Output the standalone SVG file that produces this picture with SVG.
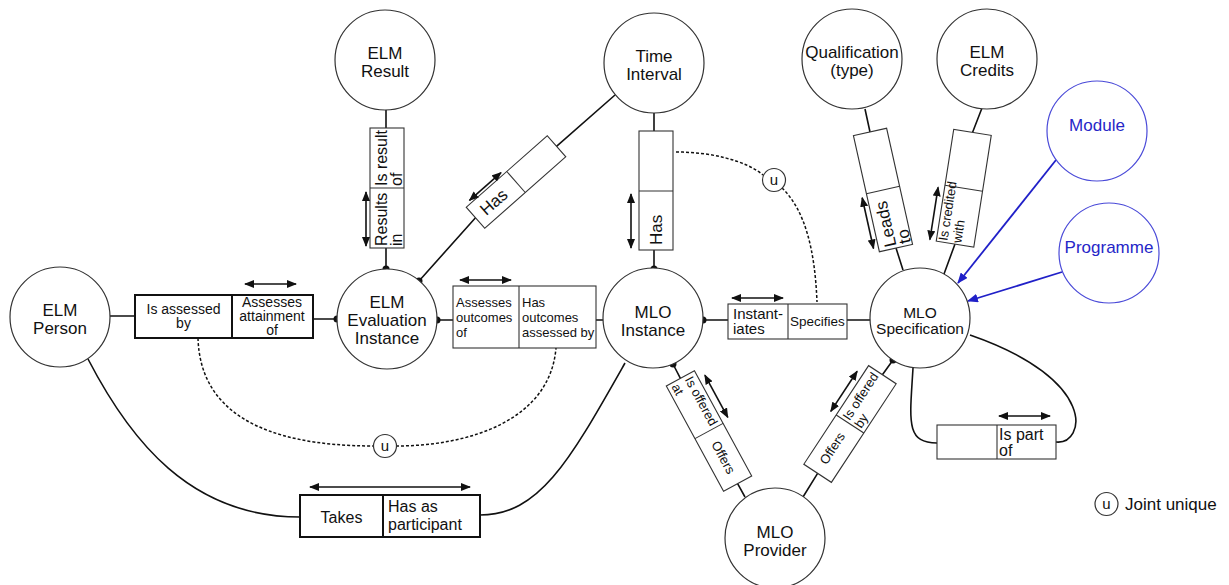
<svg xmlns="http://www.w3.org/2000/svg" width="1229" height="585" viewBox="0 0 1229 585">
<style>
text{font-family:"Liberation Sans",Arial,sans-serif;fill:#111}
.node circle{fill:#fff;stroke:#333;stroke-width:1.2}
.node text{font-size:17px;text-anchor:middle}
.blue circle{stroke:#4a4ad8}
.blue text{fill:#2626c8}
.ln{fill:none;stroke:#111;stroke-width:1.6}
.bl{fill:none;stroke:#2020c8;stroke-width:1.8}
.dash{fill:none;stroke:#111;stroke-width:1.5;stroke-dasharray:3 2}
.box{fill:#fff;stroke:#333;stroke-width:1.1}
.tbox{fill:#fff;stroke:#111;stroke-width:2}
.arr{fill:none;stroke:#111;stroke-width:1.6;marker-start:url(#ah);marker-end:url(#ah)}
.dot{fill:#111}
.f13{font-size:13px}
.f14{font-size:14px}
.f15{font-size:15px}
.f16{font-size:16px}
.f17{font-size:17px}
.mid{text-anchor:middle}
.uc{fill:#fff;stroke:#333;stroke-width:1.2}
</style>
<defs>
<marker id="ah" viewBox="0 0 10 8" refX="9" refY="4" markerWidth="10" markerHeight="8" orient="auto-start-reverse" markerUnits="userSpaceOnUse"><path d="M0,0 L10,4 L0,8 Z" fill="#111"/></marker>
<marker id="bh" viewBox="0 0 10 8" refX="9" refY="4" markerWidth="11" markerHeight="9" orient="auto" markerUnits="userSpaceOnUse"><path d="M0,0 L10,4 L0,8 Z" fill="#2020c8"/></marker>
</defs>
<rect width="1229" height="585" fill="#fff"/>

<g id="connectors">
  <path class="ln" d="M386 110 V128 M386 248 V269"/>
  <path class="ln" d="M615 95 L556.5 146.3 M475.5 217.7 L419 281"/>
  <path class="ln" d="M654 113 V131 M654 250 V269"/>
  <path class="ln" d="M110 316 H135 M313 319 H337"/>
  <path class="ln" d="M437 320 H453 M596 320 H603"/>
  <path class="ln" d="M703 320 H728 M847 320 H871"/>
  <path class="ln" d="M865 109 L870 132 M896 248 L903 270"/>
  <path class="ln" d="M982 108 L972.5 132.5 M955 244 L944 274"/>
  <path class="ln" d="M673 364 L680.4 378.3 M737.6 483.7 L745 497"/>
  <path class="ln" d="M893 360 L882.4 374.7 M817.6 473.3 L803 497"/>
  <path class="ln" d="M88 359 C130 440 190 517 300 517"/>
  <path class="ln" d="M480 515 C540 515 570 460 625 363"/>
  <path class="ln" d="M913 368 C910 420 905 443 937 443"/>
  <path class="ln" d="M1056 442 C1085 445 1100 380 970 335"/>
  <path class="bl" d="M1056 160 L958 283" marker-end="url(#bh)"/>
  <path class="bl" d="M1062 272 L968 301" marker-end="url(#bh)"/>
  <path class="dash" d="M676 152 C710 152 745 160 763 175"/>
  <path class="dash" d="M782 188 C805 210 815 250 817 302"/>
  <path class="dash" d="M198 338 C200 410 260 446 374 446"/>
  <path class="dash" d="M396 446 C470 446 550 420 556 348"/>
  <circle class="dot" cx="386" cy="269" r="3.5"/>
  <circle class="dot" cx="419" cy="281" r="3.5"/>
  <circle class="dot" cx="337" cy="319" r="3.5"/>
  <circle class="dot" cx="437" cy="320" r="3.5"/>
  <circle class="dot" cx="654" cy="269" r="3.5"/>
  <circle class="dot" cx="703" cy="320" r="3.5"/>
  <circle class="dot" cx="673" cy="364" r="3.5"/>
  <circle class="dot" cx="893" cy="360" r="3.5"/>

  <g id="role-result">
    <rect class="box" x="370" y="128" width="34" height="120"/>
    <path class="box" d="M370 188 H404"/>
    <g transform="translate(387,187) rotate(-90)"><text class="f16" x="1" y="0">Is result</text><text class="f16" x="1" y="15">of</text></g>
    <g transform="translate(387,247) rotate(-90)"><text class="f16" x="1" y="0">Results</text><text class="f16" x="1" y="15">in</text></g>
    <path class="arr" d="M366 192 V246"/>
  </g>
  <g id="role-has-diag" transform="translate(516,182) rotate(-41.4)">
    <rect class="box" x="-54" y="-14" width="108" height="28"/>
    <path class="box" d="M0 -14 V14"/>
    <text class="f17" x="-45" y="6">Has</text>
    <path class="arr" d="M-47 -17 H-5"/>
  </g>
  <g id="role-has-vert">
    <rect class="box" x="639" y="131" width="34" height="119"/>
    <path class="box" d="M639 191 H673"/>
    <g transform="translate(662,245) rotate(-90)"><text class="f17" x="0" y="0">Has</text></g>
    <path class="arr" d="M631 194 V248"/>
  </g>
  <g id="role-assessed">
    <rect class="tbox" x="135" y="295" width="178" height="43"/>
    <path class="tbox" d="M232 295 V338"/>
    <text class="f14 mid" x="183.5" y="314">Is assessed</text>
    <text class="f14 mid" x="183.5" y="328">by</text>
    <text class="f14 mid" x="272" y="307">Assesses</text>
    <text class="f14 mid" x="272" y="321">attainment</text>
    <text class="f14 mid" x="272" y="335">of</text>
    <path class="arr" d="M245 284 H296"/>
  </g>
  <g id="role-outcomes">
    <rect class="box" x="453" y="286" width="143" height="62"/>
    <path class="box" d="M519 286 V348"/>
    <text class="f13" x="456" y="307">Assesses</text>
    <text class="f13" x="456" y="322">outcomes</text>
    <text class="f13" x="456" y="337">of</text>
    <text class="f13" x="522" y="307">Has</text>
    <text class="f13" x="522" y="322">outcomes</text>
    <text class="f13" x="522" y="337">assessed by</text>
    <path class="arr" d="M460 280 H511"/>
  </g>
  <g id="role-instantiates">
    <rect class="box" x="728" y="304" width="119" height="35"/>
    <path class="box" d="M788 304 V339"/>
    <text class="f15" x="733" y="319">Instant-</text>
    <text class="f15" x="733" y="334">iates</text>
    <text x="790" y="326" style="font-size:13.5px">Specifies</text>
    <path class="arr" d="M732 298 H783"/>
  </g>
  <g id="role-leads" transform="translate(883,190) rotate(-102.6)">
    <rect class="box" x="-59.5" y="-17" width="119" height="34"/>
    <path class="box" d="M0 -17 V17"/>
    <text class="f17" x="-57" y="1">Leads</text>
    <text class="f17" x="-57" y="16">to</text>
    <path class="arr" d="M-55 -22 H-3"/>
  </g>
  <g id="role-credited" transform="translate(963.75,188.25) rotate(-81.1)">
    <rect class="box" x="-56.5" y="-19" width="113" height="38"/>
    <path class="box" d="M0 -19 V19"/>
    <text class="f13" x="-55" y="-8">Is credited</text>
    <text class="f13" x="-55" y="6">with</text>
    <path class="arr" d="M-56 -25.5 H-3"/>
  </g>
  <g id="role-offered-at" transform="translate(709,431) rotate(61.5)">
    <rect class="box" x="-60" y="-16" width="120" height="32"/>
    <path class="box" d="M0 -16 V16"/>
    <text class="f13" x="-57" y="-3">Is offered</text>
    <text class="f13" x="-57" y="12">at</text>
    <text class="f13 mid" x="30" y="4.5">Offers</text>
    <path class="arr" d="M-51 -23 H-3"/>
  </g>
  <g id="role-offered-by" transform="translate(850,424) rotate(-56.7)">
    <rect class="box" x="-59" y="-16.5" width="118" height="33"/>
    <path class="box" d="M0 -16.5 V16.5"/>
    <text class="f13" x="2" y="-2">Is offered</text>
    <text class="f13" x="2" y="12">by</text>
    <text class="f13 mid" x="-30" y="3">Offers</text>
    <path class="arr" d="M0 -23 H48"/>
  </g>
  <g id="role-takes">
    <rect class="tbox" x="300" y="495" width="180" height="42"/>
    <path class="tbox" d="M383 495 V537"/>
    <text class="f16 mid" x="341.5" y="523">Takes</text>
    <text class="f16" x="388" y="512">Has as</text>
    <text class="f16" x="388" y="530">participant</text>
    <path class="arr" d="M310 487 H470"/>
  </g>
  <g id="role-partof">
    <rect class="box" x="937" y="425" width="119" height="34"/>
    <path class="box" d="M997 425 V459"/>
    <text class="f16" x="999" y="440">Is part</text>
    <text class="f16" x="999" y="456">of</text>
    <path class="arr" d="M999 416 H1050"/>
  </g>
  <circle class="uc" cx="774" cy="180" r="11.5"/>
  <text class="f15 mid" x="774" y="185">u</text>
  <circle class="uc" cx="385" cy="446" r="11.5"/>
  <text class="f15 mid" x="385" y="451">u</text>
</g>

<g id="elm-result" class="node"><circle cx="385" cy="60" r="50"/><text x="385" y="59">ELM</text><text x="385" y="77">Result</text></g>
<g id="time-interval" class="node"><circle cx="654" cy="63" r="50"/><text x="654" y="62">Time</text><text x="654" y="80">Interval</text></g>
<g id="qualification" class="node"><circle cx="852" cy="59" r="50"/><text x="852" y="58">Qualification</text><text x="852" y="76">(type)</text></g>
<g id="elm-credits" class="node"><circle cx="987" cy="59" r="50"/><text x="987" y="58">ELM</text><text x="987" y="76">Credits</text></g>
<g id="module" class="node blue"><circle cx="1097" cy="131" r="50"/><text x="1097" y="131">Module</text></g>
<g id="programme" class="node blue"><circle cx="1109" cy="253" r="50"/><text x="1109" y="253">Programme</text></g>
<g id="elm-person" class="node"><circle cx="60" cy="317" r="50"/><text x="60" y="316">ELM</text><text x="60" y="334">Person</text></g>
<g id="elm-evaluation" class="node"><circle cx="387" cy="319" r="50"/><text x="387" y="308">ELM</text><text x="387" y="326">Evaluation</text><text x="387" y="344">Instance</text></g>
<g id="mlo-instance" class="node"><circle cx="653" cy="318" r="50"/><text x="653" y="318">MLO</text><text x="653" y="336">Instance</text></g>
<g id="mlo-specification" class="node"><circle cx="920" cy="318" r="50"/><text x="920" y="318" style="font-size:15.5px">MLO</text><text x="920" y="334" style="font-size:15.5px">Specification</text></g>
<g id="mlo-provider" class="node"><circle cx="775" cy="538" r="50"/><text x="775" y="538">MLO</text><text x="775" y="556">Provider</text></g>

<g id="legend">
  <circle class="uc" cx="1106.5" cy="504" r="11.5"/>
  <text class="f15 mid" x="1106.5" y="509">u</text>
  <text class="f17" x="1125" y="510">Joint unique</text>
</g>
</svg>
